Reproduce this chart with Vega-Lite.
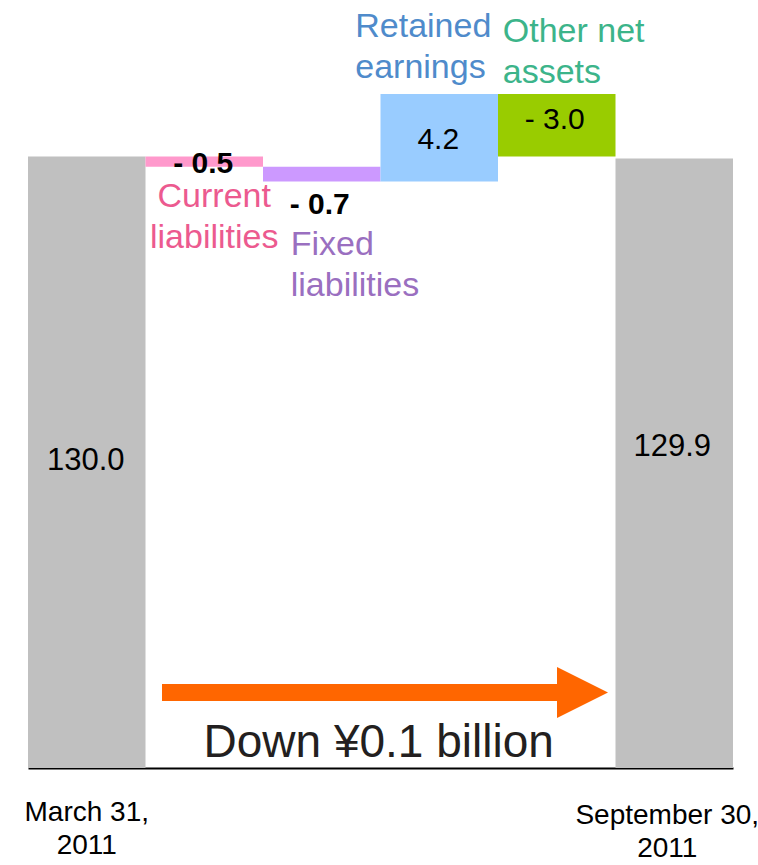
{
  "$schema": "https://vega.github.io/schema/vega-lite/v6.json",
  "width": 705,
  "height": 768,
  "autosize": {"type": "none"},
  "padding": {"left": 28, "right": 25, "top": 0, "bottom": 97},
  "background": "white",
  "config": {"view": {"stroke": null}, "font": "Liberation Sans"},
  "datasets": {
    "steps": [
      {"item": "March 31, 2011", "start": 0, "end": 130.0, "label": "130.0", "name": ""},
      {"item": "Current liabilities", "start": 130.0, "end": 129.5, "label": "- 0.5", "name": "Current\nliabilities"},
      {"item": "Fixed liabilities", "start": 129.5, "end": 128.8, "label": "- 0.7", "name": "Fixed\nliabilities"},
      {"item": "Retained earnings", "start": 128.8, "end": 133.0, "label": "4.2", "name": "Retained\nearnings"},
      {"item": "Other net assets", "start": 133.0, "end": 130.0, "label": "- 3.0", "name": "Other net\nassets"},
      {"item": "September 30, 2011", "start": 0, "end": 129.9, "label": "129.9", "name": ""}
    ],
    "note": [
      {"from": "March 31, 2011", "to": "September 30, 2011", "text": "Down ¥0.1 billion"}
    ]
  },
  "data": {"name": "steps"},
  "layer": [
    {
      "mark": {"type": "bar", "clip": true},
      "encoding": {
        "x": {
          "field": "item", "type": "nominal", "sort": null,
          "scale": {
            "domain": ["March 31, 2011", "Current liabilities", "Fixed liabilities", "Retained earnings", "Other net assets", "September 30, 2011"],
            "paddingInner": 0, "paddingOuter": 0
          },
          "axis": {
            "title": null,
            "values": ["March 31, 2011", "September 30, 2011"],
            "labelExpr": "split(replace(datum.label, ', ', ',|'), '|')",
            "labelAngle": 0,
            "ticks": false,
            "tickSize": 0,
            "domainColor": "#000000",
            "domainWidth": 2,
            "labelFont": "Liberation Sans",
            "labelFontSize": 28,
            "labelColor": "#000000",
            "labelLineHeight": 33,
            "labelLimit": 0,
            "labelPadding": {"condition": {"test": "datum.value === 'September 30, 2011'", "value": 33}, "value": 30},
            "labelOffset": {"condition": {"test": "datum.value === 'September 30, 2011'", "value": -7}, "value": 0}
          }
        },
        "y": {"field": "end", "type": "quantitative", "scale": {"domain": [100.6, 137.52], "zero": false, "nice": false}, "axis": null},
        "y2": {"field": "start"},
        "color": {
          "field": "item", "type": "nominal",
          "scale": {
            "domain": ["March 31, 2011", "Current liabilities", "Fixed liabilities", "Retained earnings", "Other net assets", "September 30, 2011"],
            "range": ["#C0C0C0", "#FF99CC", "#CC99FF", "#99CCFF", "#99CC00", "#C0C0C0"]
          },
          "legend": null
        }
      }
    },
    {
      "transform": [{"filter": "datum.item === 'March 31, 2011'"}],
      "mark": {"type": "text", "fontSize": 31, "color": "#000000", "baseline": "alphabetic", "dx": -1, "dy": 313.6},
      "encoding": {"x": {"field": "item", "type": "nominal"}, "y": {"field": "end", "type": "quantitative"}, "text": {"field": "label"}}
    },
    {
      "transform": [{"filter": "datum.item === 'September 30, 2011'"}],
      "mark": {"type": "text", "fontSize": 31, "color": "#000000", "baseline": "alphabetic", "dx": -2, "dy": 297.5},
      "encoding": {"x": {"field": "item", "type": "nominal"}, "y": {"field": "end", "type": "quantitative"}, "text": {"field": "label"}}
    },
    {
      "transform": [{"filter": "datum.item === 'Current liabilities'"}],
      "mark": {"type": "text", "fontSize": 30, "fontWeight": "bold", "color": "#000000", "baseline": "alphabetic", "dx": -1, "dy": 6},
      "encoding": {"x": {"field": "item", "type": "nominal"}, "y": {"field": "end", "type": "quantitative"}, "text": {"field": "label"}}
    },
    {
      "transform": [{"filter": "datum.item === 'Fixed liabilities'"}],
      "mark": {"type": "text", "fontSize": 30, "fontWeight": "bold", "color": "#000000", "baseline": "alphabetic", "dx": -2, "dy": 32.6},
      "encoding": {"x": {"field": "item", "type": "nominal"}, "y": {"field": "end", "type": "quantitative"}, "text": {"field": "label"}}
    },
    {
      "transform": [{"filter": "datum.item === 'Retained earnings'"}],
      "mark": {"type": "text", "fontSize": 30, "color": "#000000", "baseline": "alphabetic", "dx": -1, "dy": 55},
      "encoding": {"x": {"field": "item", "type": "nominal"}, "y": {"field": "end", "type": "quantitative"}, "text": {"field": "label"}}
    },
    {
      "transform": [{"filter": "datum.item === 'Other net assets'"}],
      "mark": {"type": "text", "fontSize": 30, "color": "#000000", "baseline": "alphabetic", "dx": -2, "dy": 35},
      "encoding": {"x": {"field": "item", "type": "nominal"}, "y": {"field": "start", "type": "quantitative"}, "text": {"field": "label"}}
    },
    {
      "transform": [{"filter": "datum.item === 'Current liabilities'"}],
      "mark": {"type": "text", "fontSize": 34, "lineHeight": 41, "lineBreak": "\n", "color": "#EC5A8F", "align": "center", "baseline": "alphabetic", "dx": 10, "dy": 40},
      "encoding": {"x": {"field": "item", "type": "nominal"}, "y": {"field": "end", "type": "quantitative"}, "text": {"field": "name"}}
    },
    {
      "transform": [{"filter": "datum.item === 'Fixed liabilities'"}],
      "mark": {"type": "text", "fontSize": 34, "lineHeight": 41, "lineBreak": "\n", "color": "#9A6FC0", "align": "left", "baseline": "alphabetic", "dx": -31, "dy": 73.6},
      "encoding": {"x": {"field": "item", "type": "nominal"}, "y": {"field": "end", "type": "quantitative"}, "text": {"field": "name"}}
    },
    {
      "transform": [{"filter": "datum.item === 'Retained earnings'"}],
      "mark": {"type": "text", "fontSize": 34, "lineHeight": 41, "lineBreak": "\n", "color": "#4F8BCB", "align": "left", "baseline": "alphabetic", "dx": -84, "dy": -57},
      "encoding": {"x": {"field": "item", "type": "nominal"}, "y": {"field": "end", "type": "quantitative"}, "text": {"field": "name"}}
    },
    {
      "transform": [{"filter": "datum.item === 'Other net assets'"}],
      "mark": {"type": "text", "fontSize": 34, "lineHeight": 41, "lineBreak": "\n", "color": "#3CB48A", "align": "left", "baseline": "alphabetic", "dx": -54, "dy": -52},
      "encoding": {"x": {"field": "item", "type": "nominal"}, "y": {"field": "start", "type": "quantitative"}, "text": {"field": "name"}}
    },
    {
      "data": {"name": "note"},
      "mark": {"type": "rule", "color": "#FF6600", "strokeWidth": 17, "strokeCap": "butt", "xOffset": 16.5, "x2Offset": -57},
      "encoding": {
        "x": {"field": "from", "type": "nominal", "bandPosition": 1},
        "x2": {"field": "to", "bandPosition": 0},
        "y": {"datum": 104.23, "type": "quantitative"}
      }
    },
    {
      "data": {"name": "note"},
      "mark": {"type": "point", "shape": "M-1,-1L1,0L-1,1Z", "size": 2601, "filled": true, "opacity": 1, "color": "#FF6600", "strokeWidth": 0, "xOffset": -33},
      "encoding": {
        "x": {"field": "to", "type": "nominal", "bandPosition": 0},
        "y": {"datum": 104.23, "type": "quantitative"}
      }
    },
    {
      "data": {"name": "note"},
      "mark": {"type": "text", "fontSize": 46, "color": "#231F20", "align": "left", "baseline": "alphabetic", "dx": 58},
      "encoding": {
        "x": {"field": "from", "type": "nominal", "bandPosition": 1},
        "y": {"datum": 101.13, "type": "quantitative"},
        "text": {"field": "text"}
      }
    }
  ]
}
